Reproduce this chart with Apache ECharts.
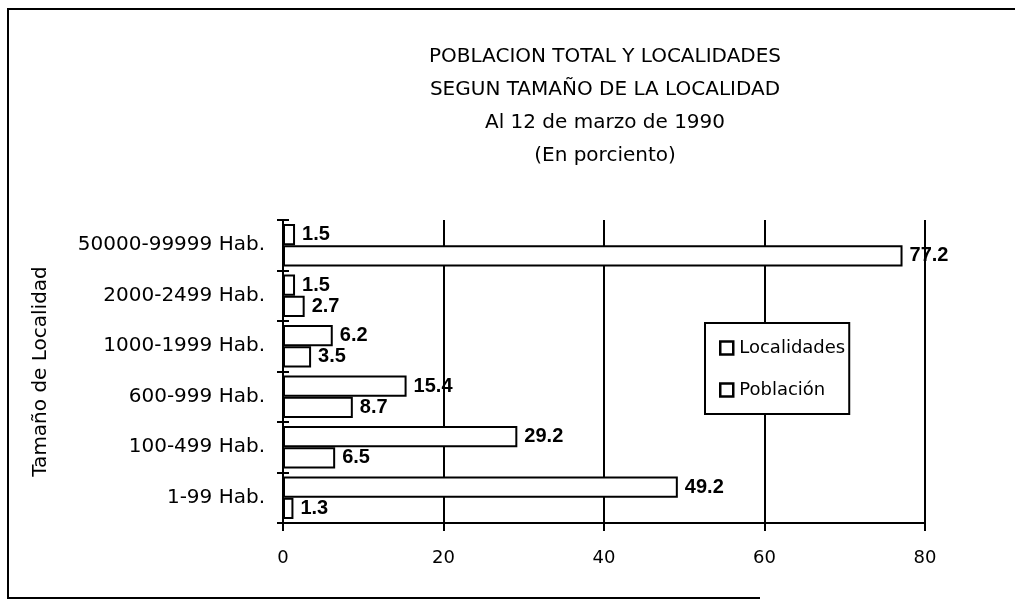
<!DOCTYPE html>
<html>
<head>
<meta charset="utf-8">
<style>
  html, body { margin: 0; padding: 0; background: #ffffff; }
  #chart { width: 1015px; height: 601px; }
</style>
<script src="https://cdn.jsdelivr.net/npm/echarts@6/dist/echarts.min.js"></script>
</head>
<body>
<div id="chart"></div>
<script>
// Locality size classes, bottom to top on the category axis
const categories = ['1-99 Hab.', '100-499 Hab.', '600-999 Hab.', '1000-1999 Hab.', '2000-2499 Hab.', '50000-99999 Hab.'];
// Share of localities (%) per size class
const localidades = [49.2, 29.2, 15.4, 6.2, 1.5, 1.5];
// Share of population (%) per size class
const poblacion = [1.3, 6.5, 8.7, 3.5, 2.7, 77.2];
// Value axis ticks
const xTicks = [0, 20, 40, 60, 80];

const titleLines = [
  'POBLACION TOTAL Y LOCALIDADES',
  'SEGUN TAMAÑO DE LA LOCALIDAD',
  'Al 12 de marzo de 1990',
  '(En porciento)'
];

const baseFont = '"DejaVu Sans", Verdana, sans-serif';
const barStyle = { color: '#ffffff', borderColor: '#000000', borderWidth: 2 };
const valueLabel = {
  show: true,
  position: 'right',
  distance: 7,
  color: '#000000',
  fontFamily: '"Liberation Sans", Arial, sans-serif',
  fontWeight: 'bold',
  fontSize: 20
};

const chart = echarts.init(document.getElementById('chart'), null, { renderer: 'canvas' });

chart.setOption({
  animation: false,
  backgroundColor: '#ffffff',
  title: {
    text: titleLines.join('\n'),
    left: 605,
    top: 40,
    textAlign: 'center',
    padding: 0,
    textStyle: {
      fontFamily: baseFont,
      fontWeight: 'normal',
      fontSize: 20,
      lineHeight: 33,
      color: '#000000'
    }
  },
  legend: {
    data: ['Localidades', 'Población'],
    orient: 'vertical',
    left: 705,
    top: 323,
    padding: [16, 4, 15, 14],
    itemGap: 24,
    itemWidth: 13,
    itemHeight: 13,
    icon: 'rect',
    backgroundColor: '#ffffff',
    borderColor: '#000000',
    borderWidth: 2,
    borderRadius: 0,
    itemStyle: { color: '#ffffff', borderColor: '#000000', borderWidth: 2.5 },
    textStyle: { fontFamily: baseFont, fontSize: 18, color: '#000000', padding: [0, 0, 0, 1] }
  },
  grid: { left: 283, right: 90, top: 220, bottom: 78, containLabel: false },
  xAxis: {
    type: 'value',
    min: xTicks[0],
    max: xTicks[xTicks.length - 1],
    interval: 20,
    axisLine: { show: true, lineStyle: { color: '#000000', width: 2 } },
    axisTick: { show: true, length: 8, lineStyle: { color: '#000000', width: 2 } },
    axisLabel: {
      margin: 26,
      fontFamily: baseFont,
      fontSize: 18,
      color: '#000000'
    },
    splitLine: { show: true, lineStyle: { color: '#000000', width: 2 } }
  },
  yAxis: [
    {
      type: 'category',
      data: categories,
      name: 'Tamaño de Localidad',
      nameLocation: 'middle',
      nameGap: 232,
      nameRotate: 90,
      nameTextStyle: { fontFamily: baseFont, fontSize: 20, color: '#000000' },
      axisLine: { show: true, lineStyle: { color: '#000000', width: 2 } },
      axisTick: { show: true, length: 6, lineStyle: { color: '#000000', width: 2 } },
      axisLabel: { margin: 18, fontFamily: baseFont, fontSize: 20, color: '#000000' },
      splitLine: { show: false }
    },
    {
      // Inner half of the crossing tick marks on the category axis
      type: 'category',
      data: categories,
      position: 'left',
      offset: 0,
      axisLine: { show: false },
      axisTick: { show: true, inside: true, length: 6, lineStyle: { color: '#000000', width: 2 } },
      axisLabel: { show: false },
      splitLine: { show: false }
    }
  ],
  series: [
    {
      name: 'Localidades',
      type: 'bar',
      yAxisIndex: 0,
      data: localidades,
      barGap: '0%',
      barCategoryGap: '16%',
      itemStyle: barStyle,
      label: valueLabel,
      z: 3
    },
    {
      name: 'Población',
      type: 'bar',
      yAxisIndex: 0,
      data: poblacion,
      barGap: '0%',
      barCategoryGap: '16%',
      itemStyle: barStyle,
      label: valueLabel,
      z: 3
    }
  ],
  graphic: [
    {
      // Outer frame around the figure
      type: 'polyline',
      silent: true,
      shape: { points: [[1015, 9], [8, 9], [8, 598], [760, 598]] },
      style: { fill: null, stroke: '#000000', lineWidth: 2 }
    }
  ]
});
</script>
</body>
</html>
